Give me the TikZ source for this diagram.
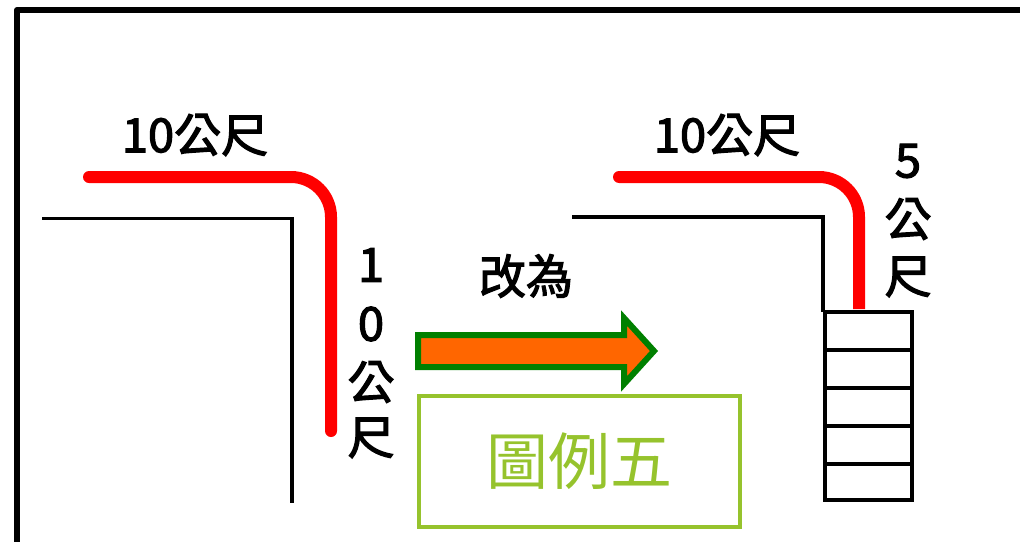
\documentclass[tikz,border=0pt]{standalone}
\usepackage{fontspec}
\newfontfamily\cjk{Noto Sans CJK TC}
\newfontfamily\cjkm[FakeBold=2.5]{Noto Sans CJK TC}
\definecolor{redline}{RGB}{255,0,0}
\definecolor{arrowfill}{RGB}{255,102,0}
\definecolor{arrowline}{RGB}{0,128,0}
\definecolor{lime}{RGB}{150,195,45}
\tikzset{
  frameline/.style={line width=6pt, line join=round},
  wallline/.style={line width=3.5pt},
  redpath/.style={line width=12pt, draw=redline, line cap=round, rounded corners=40pt},
  lbl/.style={inner sep=0pt, font=\cjkm\fontsize{47}{47}\selectfont},
  stairline/.style={line width=4pt},
}
\begin{document}
\begin{tikzpicture}[x=1pt,y=-1pt]
\useasboundingbox (0,0) rectangle (1020,541);
% outer frame
\draw[frameline] (17,560) -- (17,10) -- (1040,10);
% left corner walls
\draw[wallline] (42,218.5) -- (292,218.5) -- (292,503);
\draw[redpath] (89,177) -- (331,177) -- (331,431);
\node[lbl] (l10) at (195,135) {10公尺};
\node[lbl] (v1) at (371,265) {1};
\node[lbl] (v2) at (371,324) {0};
\node[lbl] (v3) at (371,382) {公};
\node[lbl] (v4) at (371,438) {尺};
% arrow
\node[lbl] (gai) at (526,276) {改為};
\draw[line width=6pt, draw=arrowline, fill=arrowfill, line join=miter]
  (418,335) -- (624,335) -- (624,318) -- (654,351) -- (624,384) -- (624,367) -- (418,367) -- cycle;
% legend box
\node[draw=lime, line width=3.5pt, minimum width=321pt, minimum height=131pt, inner sep=0pt,
      text=lime, font=\cjk\fontsize{62}{62}\selectfont] (legend) at (579.5,461.5) {圖例五};
% right corner walls
\draw[wallline] (572,217) -- (823,217) -- (823,312);
\draw[redpath, line cap=butt] (619,177) -- (859,177) -- (859,309);
\draw[line width=12pt, draw=redline, line cap=round] (619,177) -- (625,177);
\node[lbl] (r10) at (727,135) {10公尺};
\node[lbl] (w1) at (908,161) {5};
\node[lbl] (w2) at (908,219) {公};
\node[lbl] (w3) at (908,277) {尺};
% stairs
\draw[stairline] (824.5,311.5) rectangle (912,500);
\foreach \yy in {349.5,387.5,425.5,463.5}
  \draw[stairline] (824.5,\yy) -- (912,\yy);
\end{tikzpicture}
\end{document}
